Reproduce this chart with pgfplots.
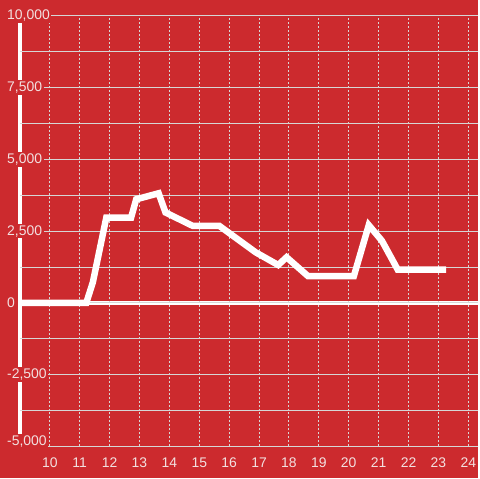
\documentclass[border=0pt]{standalone}
\usepackage{pgfplots}
\pgfplotsset{compat=1.18}
\usepackage{fontspec}
\setmainfont{Liberation Sans}
\definecolor{bg}{RGB}{204,42,46}
\definecolor{lbl}{RGB}{242,224,224}
\definecolor{grd}{RGB}{214,214,214}
\setlength{\fboxsep}{1.5pt}
\pgfplotsset{
  layers/mylayers/.define layer set={
    bgfill,axis background,axis grid,axis ticks,axis lines,pre main,main,
    axis tick labels,axis descriptions,axis foreground}{},
}

\begin{document}
\begin{tikzpicture}[x=1pt,y=1pt]
\path (0,0) rectangle (480,480);
\begin{axis}[
    set layers=mylayers,
    clip=false,
    at={(20pt,32pt)}, anchor=south west,
    width=460pt, height=432pt, scale only axis,
    xmin=9, xmax=24.333, ymin=-5000, ymax=10000,
    axis line style={draw=none},
    major tick length=0pt, minor tick length=0pt,
    scaled ticks=false,
    xtick={10,11,...,24},
    ytick={-2500,0,2500,5000,7500,10000},
    minor ytick={-3750,-1250,1250,3750,6250,8750},
    extra y ticks={-5000},
    extra y tick style={ymajorgrids=true, yticklabel style={yshift=5pt}},
    xmajorgrids=true, ymajorgrids=true, yminorgrids=true,
    major grid style={grd, line width=1pt},
    minor grid style={grd, line width=1pt},
    x grid style={dash pattern=on 2pt off 2pt},
    tick label style={font=\fontsize{14}{16}\selectfont, text=lbl},
    yticklabel style={anchor=west, xshift=-14.5pt, inner sep=0pt,
        /pgf/number format/1000 sep={,}},
    yticklabel={\colorbox{bg}{\textcolor{lbl}{\pgfmathprintnumber{\tick}}}},
    xticklabel style={yshift=-8pt},
    /pgf/number format/assume math mode=true,
]
\begin{pgfonlayer}{bgfill}
\fill[bg] (rel axis cs:-0.0434783,-0.0740741) rectangle (rel axis cs:1,1.037037);
\end{pgfonlayer}
\begin{pgfonlayer}{axis lines}
\draw[white, line width=3.5pt] (axis cs:9,-5000) -- (axis cs:9,10000);
\draw[white, line width=3.5pt] (axis cs:9,0) -- (axis cs:24.333,0);
\end{pgfonlayer}
\addplot[white, line width=6.5pt, mark=none] coordinates {
  (9,0) (11.22,0) (11.44,720) (11.89,2975) (12.72,2975) (12.89,3610)
  (13.64,3820) (13.87,3150) (14.78,2685) (15.67,2685) (16.89,1760)
  (17.64,1320) (17.92,1590) (18.64,930) (20.17,930) (20.67,2710)
  (21.11,2165) (21.64,1157) (23.26,1157)
};
\end{axis}
\end{tikzpicture}
\end{document}
